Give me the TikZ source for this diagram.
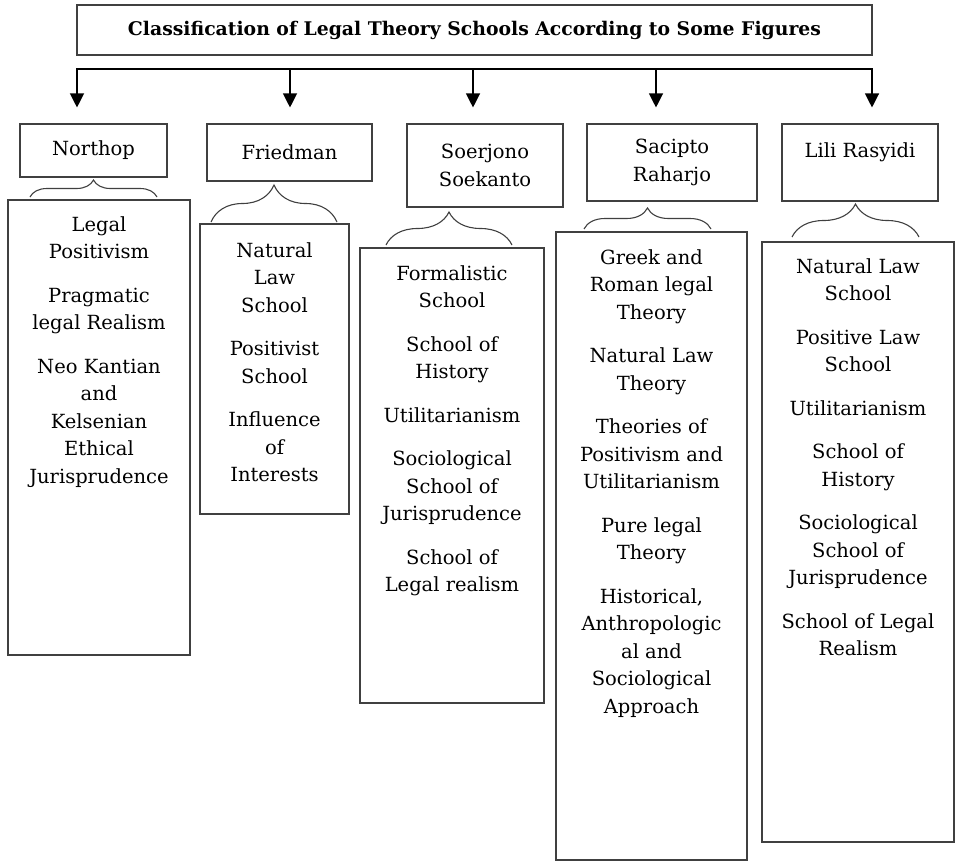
\documentclass[tikz,border=0pt]{standalone}
\usepackage{fontspec}
\setmainfont{DejaVu Serif}
\usetikzlibrary{positioning,calc,arrows.meta,decorations.pathreplacing}

\begin{document}
\begin{tikzpicture}[x=1pt,y=-1pt]
        \tikzstyle{bx}=[draw=black!75, line width=1.1pt, inner sep=0pt, align=center, font=\fontsize{19.5}{27.5}\selectfont]
        \tikzstyle{txt}=[inner sep=0pt, align=center, anchor=north, font=\fontsize{19.5}{27.5}\selectfont]
        \tikzstyle{arr}=[line width=1.2pt, -{Triangle[width=14pt,length=14pt]}, shorten >=16pt]
        \tikzstyle{brc}=[draw=black!75, line width=1.1pt, decorate]

        \useasboundingbox (0,0) rectangle (956,862);

        \node[bx, minimum width=795pt, minimum height=50pt, font=\bfseries\fontsize{18.8}{22}\selectfont] (title) at (474.5,30) {Classification of Legal Theory Schools According to Some Figures};

        % figures
        \node[bx, minimum width=147pt, minimum height=53pt] (northop) at (93.5,150.5) {Northop};
        \node[bx, minimum width=165pt, minimum height=57pt] (friedman) at (289.5,152.5) {Friedman};
        \node[bx, minimum width=156pt, minimum height=83pt] (soerjono) at (485,165.5) {Soerjono\\Soekanto};
        \node[bx, minimum width=170pt, minimum height=77pt, text depth=4pt] (sacipto) at (672,162.5) {Sacipto\\Raharjo};
        \node[bx, minimum width=156pt, minimum height=77pt, text depth=25pt] (lili) at (860,162.5) {Lili Rasyidi};

        % bus and arrows
        \coordinate (b1) at (77,69);
        \coordinate (b2) at (290,69);
        \coordinate (b3) at (473,69);
        \coordinate (b4) at (656,69);
        \coordinate (b5) at (872,69);
        \draw[line width=1.2pt, line cap=rect] (b1) -- (b5);
        \draw[arr] (b1) -- (b1 |- northop.north);
        \draw[arr] (b2) -- (b2 |- friedman.north);
        \draw[arr] (b3) -- (b3 |- soerjono.north);
        \draw[arr] (b4) -- (b4 |- sacipto.north);
        \draw[arr] (b5) -- (b5 |- lili.north);

        % braces
        \draw[brc, decoration={brace, amplitude=17pt}] (30,197) -- (157,197);
        \draw[brc, decoration={brace, amplitude=37pt}] (211,222) -- (337,222);
        \draw[brc, decoration={brace, amplitude=33pt}] (386,245) -- (512,245);
        \draw[brc, decoration={brace, amplitude=21pt}] (584,229) -- (711,229);
        \draw[brc, decoration={brace, amplitude=33pt}] (792,237) -- (919,237);

        % schools
        \node[bx, minimum width=182pt, minimum height=455pt] (northopbox) at (99,427.5) {};
        \node[bx, minimum width=149pt, minimum height=290pt] (friedmanbox) at (274.5,369) {};
        \node[bx, minimum width=184pt, minimum height=455pt] (soerjonobox) at (452,475.5) {};
        \node[bx, minimum width=191pt, minimum height=628pt] (saciptobox) at (651.5,546) {};
        \node[bx, minimum width=192pt, minimum height=600pt] (lilibox) at (858,542) {};

        \node[txt] (northoplist) at (99,216) {Legal\\Positivism\\[16pt]Pragmatic\\legal Realism\\[16pt]Neo Kantian\\and\\Kelsenian\\Ethical\\Jurisprudence};
        \node[txt] (friedmanlist) at (274.5,242) {Natural\\Law\\School\\[16pt]Positivist\\School\\[16pt]Influence\\of\\Interests};
        \node[txt] (soerjonolist) at (452,265) {Formalistic\\School\\[16pt]School of\\History\\[16pt]Utilitarianism\\[16pt]Sociological\\School of\\Jurisprudence\\[16pt]School of\\Legal realism};
        \node[txt] (saciptolist) at (651.5,249) {Greek and\\Roman legal\\Theory\\[16pt]Natural Law\\Theory\\[16pt]Theories of\\Positivism and\\Utilitarianism\\[16pt]Pure legal\\Theory\\[16pt]Historical,\\Anthropologic\\al and\\Sociological\\Approach};
        \node[txt] (lililist) at (858,258) {Natural Law\\School\\[16pt]Positive Law\\School\\[16pt]Utilitarianism\\[16pt]School of\\History\\[16pt]Sociological\\School of\\Jurisprudence\\[16pt]School of Legal\\Realism};
    \end{tikzpicture}
\end{document}
